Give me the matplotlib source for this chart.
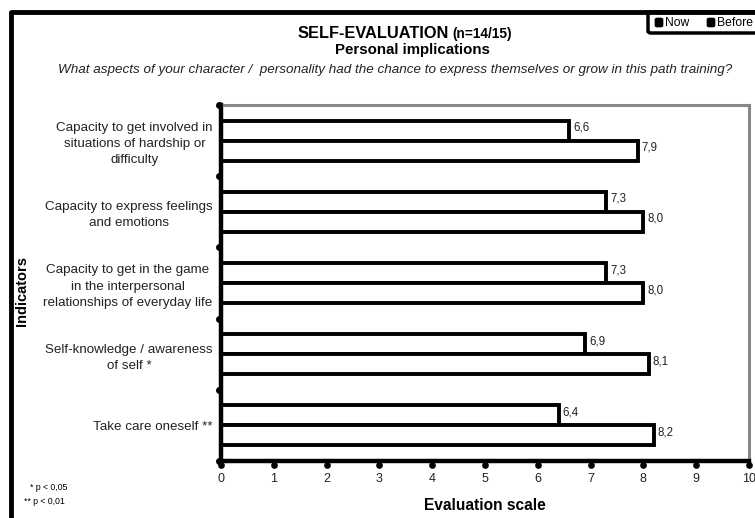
import numpy as np
import matplotlib
matplotlib.use("Agg")
import matplotlib.pyplot as plt
from matplotlib.lines import Line2D
from matplotlib.patches import FancyBboxPatch

plt.rcParams['font.family'] = ['Liberation Sans', 'DejaVu Sans']

categories = [
    "Capacity to get involved in\nsituations of hardship or\ndifficulty",
    "Capacity to express feelings\nand emotions",
    "Capacity to get in the game\nin the interpersonal\nrelationships of everyday life",
    "Self-knowledge / awareness\nof self *",
    "Take care oneself **",
]
now_values = [6.6, 7.3, 7.3, 6.9, 6.4]
before_values = [7.9, 8.0, 8.0, 8.1, 8.2]
series_names = ["Now", "Before"]
x_ticks = list(range(0, 11))

W, H = 755, 518
fig = plt.figure(figsize=(W / 100, H / 100), dpi=100)

# outer frame of the chart area (runs off the right and bottom edges)
fig.add_artist(Line2D([11 / W, 11 / W, 1.02], [-0.02, 1 - 12 / H, 1 - 12 / H],
                      transform=fig.transFigure, color="black", lw=3.5,
                      solid_joinstyle="round"))

ax_left, ax_right, ax_top, ax_bot = 221, 749, 105, 461
ax = fig.add_axes([ax_left / W, 1 - ax_bot / H, (ax_right - ax_left) / W, (ax_bot - ax_top) / H])

y = np.arange(len(categories))
h = 0.28
edge = dict(facecolor="white", edgecolor="black", linewidth=2.8)
ax.barh(y - h / 2, now_values, height=h, **edge)
ax.barh(y + h / 2, before_values, height=h, **edge)

for yi, v in zip(y - h / 2, now_values):
    ax.text(v + 0.07, yi - 0.04, f"{v:.1f}".replace(".", ","), va="center", ha="left",
            fontsize=8.3, color="#222222")
for yi, v in zip(y + h / 2, before_values):
    ax.text(v + 0.07, yi - 0.04, f"{v:.1f}".replace(".", ","), va="center", ha="left",
            fontsize=8.3, color="#222222")

ax.set_xlim(0, 10)
ax.set_ylim(len(categories) - 0.5, -0.5)

for s in ("top", "right"):
    ax.spines[s].set_color("#888888")
    ax.spines[s].set_linewidth(2.2)
for s in ("left", "bottom"):
    ax.spines[s].set_color("black")
    ax.spines[s].set_linewidth(3.2)

ax.set_xticks(x_ticks)
ax.set_xticklabels([str(t) for t in x_ticks], fontsize=9, color="#222222")
ax.tick_params(axis="x", length=0, pad=9)
ax.set_yticks(y)
ax.set_yticklabels(categories, fontsize=9.6, color="#222222", ha="right",
                   multialignment="center", linespacing=1.45)
ax.tick_params(axis="y", length=0, pad=6)

# dot tick marks along the axes
ax.plot(x_ticks, [len(categories) - 0.5 + 0.06] * len(x_ticks), "o", color="black",
        ms=3.8, clip_on=False, zorder=5)
bounds = np.arange(-0.5, len(categories), 1.0)
ax.plot([-0.045] * len(bounds), bounds, "o", color="black", ms=4, clip_on=False, zorder=5)

ax.set_xlabel("Evaluation scale", fontsize=11.2, fontweight="bold", labelpad=9)
fig.text(22 / W, 1 - 291 / H, "Indicators", rotation=90, fontsize=10.5, fontweight="bold",
         ha="center", va="center")

# titles
fig.text(449 / W, 1 - 33 / H, "SELF-EVALUATION", fontsize=11.8, fontweight="bold",
         ha="right", va="center")
fig.text(452 / W, 1 - 34 / H, "(n=14/15)", fontsize=9.8, fontweight="bold",
         ha="left", va="center")
fig.text(412 / W, 1 - 50 / H, "Personal implications", fontsize=10.8, fontweight="bold",
         ha="center", va="center")
fig.text(395 / W, 1 - 70 / H,
         "What aspects of your character /  personality had the chance to express themselves or grow in this path training?",
         fontsize=9.7, style="italic", ha="center", va="center", color="#222222")

# significance notes
fig.text(30 / W, 1 - 488 / H, "* p < 0,05", fontsize=6.3, ha="left", va="center")
fig.text(24 / W, 1 - 501 / H, "** p < 0,01", fontsize=6.3, ha="left", va="center")

# legend box
lx0 = 648
fig.add_artist(FancyBboxPatch((lx0 / W, 1 - 33 / H), (W + 20 - lx0) / W, 21 / H,
                              boxstyle="round,pad=0,rounding_size=0.004",
                              transform=fig.transFigure, facecolor="white",
                              edgecolor="black", lw=2.5, clip_on=False))
for name, xp in zip(series_names, [659, 711]):
    fig.add_artist(FancyBboxPatch(((xp - 4) / W, 1 - 27 / H), 8 / W, 9 / H,
                                  boxstyle="round,pad=0,rounding_size=0.003",
                                  transform=fig.transFigure, facecolor="black",
                                  edgecolor="black", lw=0.5))
    fig.text((xp + 6) / W, 1 - 22.5 / H, name, fontsize=8.7, ha="left", va="center")

fig.savefig("out.png", dpi=100)
